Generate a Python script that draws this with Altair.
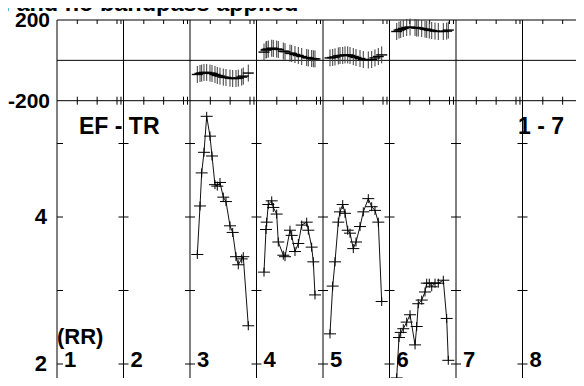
import altair as alt
import pandas as pd

# ---------------- data ----------------
title_text = "d and no bandpass applied"
baseline_label = "EF - TR"
range_label = "1 - 7"
stokes_label = "(RR)"
if_labels = ["1", "2", "3", "4", "5", "6", "7", "8"]
phase_tick_labels = [200, -200]
amp_tick_labels = [4, 2]
amp_ticks = [2, 3, 4, 5]
chan_ticks = [5, 10, 15, 16]
phase_lines = [200, 0, -200]

# IF 3
if3_chan = [1.73, 2.41, 2.83, 3.41, 4.09, 4.92, 5.43, 6.18, 6.76, 7.44, 8.27, 8.95, 9.96, 10.64, 11.47, 12.05, 12.91, 13.31, 14.57]
if3_amp = [3.49, 4.15, 4.60, 4.88, 5.37, 5.10, 4.83, 4.44, 4.42, 4.47, 4.27, 4.21, 3.88, 3.79, 3.46, 3.35, 3.43, 3.46, 2.52]
if3_phase = [-70, -65, -63, -60, -60, -63, -65, -70, -75, -78, -83, -85, -88, -90, -90, -88, -83, -78, -63]
# IF 4
if4_chan = [1.78, 2.28, 2.46, 2.86, 3.72, 4.12, 4.97, 5.38, 6.64, 7.07, 8.32, 8.75, 9.58, 10.42, 11.27, 12.53, 12.93, 13.78, 14.2, 14.62]
if4_amp = [3.25, 3.83, 3.93, 4.17, 4.22, 4.13, 4.04, 3.66, 3.48, 3.46, 3.82, 3.75, 3.53, 3.64, 3.89, 3.93, 3.82, 3.59, 3.39, 2.94]
if4_phase = [41, 51, 54, 56, 60, 59, 56, 54, 46, 43, 36, 34, 29, 24, 19, 14, 12, 9, 8, 7]
# IF 5
if5_chan = [1.65, 2.33, 2.91, 3.74, 4.17, 4.85, 5.43, 6.11, 6.69, 7.52, 8.20, 9.21, 10.04, 11.30, 12.15, 12.98, 13.82, 14.67]
if5_amp = [2.41, 3.06, 3.39, 3.93, 4.07, 4.17, 4.05, 3.82, 3.78, 3.57, 3.66, 3.87, 4.07, 4.25, 4.14, 4.09, 3.93, 2.85]
if5_phase = [12, 14, 17, 22, 24, 24, 27, 27, 24, 19, 14, 9, 4, 2, 4, 12, 19, 27]
# IF 6
if6_chan = [1.70, 2.28, 2.71, 3.36, 4.22, 5.06, 6.32, 6.74, 7.14, 8.0, 8.83, 9.26, 9.91, 10.52, 11.35, 12.18, 13.44, 14.29, 14.70]
if6_amp = [1.81, 2.36, 2.43, 2.48, 2.57, 2.67, 2.26, 2.51, 2.82, 2.87, 2.98, 3.10, 3.10, 3.05, 3.10, 3.10, 3.14, 2.62, 2.05]
if6_phase = [143, 150, 153, 158, 163, 165, 163, 160, 160, 158, 155, 153, 150, 148, 145, 143, 143, 145, 150]

# ---------------- layout constants ----------------
PW = 16.75      # channels per IF panel on the axis
X0 = -0.113     # axis origin (channel units)
FULL_W = 532    # full 8-panel width in px (extends past the window)
W, H = 519, 358 # svg box (kept inside the window)
XMAX = 527      # right edge of visible drawing
YMAX = 366      # bottom edge of visible drawing
FONT = "Liberation Sans"

series = {2: (if3_chan, if3_amp, if3_phase),
          3: (if4_chan, if4_amp, if4_phase),
          4: (if5_chan, if5_amp, if5_phase),
          5: (if6_chan, if6_amp, if6_phase)}
rows = []
for p, (ch, am, ph) in series.items():
    for k, (c, a, f) in enumerate(zip(ch, am, ph)):
        rows.append(dict(panel=p, seq=k, x=p * PW + c, amp=a, phase=f))
df = pd.DataFrame(rows)

px_per = FULL_W / (8 * PW)
div_df = pd.DataFrame({"x": [i * PW + X0 for i in range(8)]})
xt_vals = [i * PW + c for i in range(8) for c in chan_ticks]
xt_df = pd.DataFrame({"x": [v for v in xt_vals if (v - X0) * px_per <= XMAX - 1]})
hl_df = pd.DataFrame({"phase": phase_lines})
at_df = pd.DataFrame([dict(x=i * PW + X0, amp=a) for i in range(1, 8) for a in amp_ticks])
atl_df = pd.DataFrame([dict(x=X0, amp=a) for a in amp_ticks])
num_df = pd.DataFrame({"x": [i * PW + X0 for i in range(8)], "amp": [2] * 8, "label": if_labels})
pl_df = pd.DataFrame({"phase": phase_tick_labels, "label": [str(v) for v in phase_tick_labels]})
al_df = pd.DataFrame({"amp": amp_tick_labels, "label": [str(v) for v in amp_tick_labels]})

xs = alt.Scale(domain=[X0, X0 + 8 * PW], range=[0, FULL_W], nice=False, zero=False)
ps = alt.Scale(domain=[-200, 200], range=[80.7, 0], nice=False, zero=False)
ams = alt.Scale(domain=[2, 4], range=[344, 197], nice=False, zero=False)
X = alt.X("x:Q", scale=xs, axis=None)

layers = []
# frame: horizontal lines of phase panel
layers.append(alt.Chart(hl_df).mark_rule(color="black", strokeWidth=1).encode(
    y=alt.Y("phase:Q", scale=ps, axis=None), x=alt.value(0), x2=alt.value(XMAX)))
# panel dividers
layers.append(alt.Chart(div_df).mark_rule(color="black", strokeWidth=1).encode(
    x=X, y=alt.value(0), y2=alt.value(YMAX)))
# x ticks: top, middle, bottom
layers.append(alt.Chart(xt_df).mark_rule(color="black", strokeWidth=1).encode(
    x=X, y=alt.value(0), y2=alt.value(4)))
layers.append(alt.Chart(xt_df).mark_rule(color="black", strokeWidth=1).encode(
    x=X, y=alt.value(76.7), y2=alt.value(84.7)))
layers.append(alt.Chart(xt_df).mark_rule(color="black", strokeWidth=1).encode(
    x=X, y=alt.value(YMAX - 2.5), y2=alt.value(YMAX)))
# amplitude ticks on dividers
layers.append(alt.Chart(at_df).mark_tick(orient="horizontal", size=10, thickness=1, color="black", opacity=1).encode(
    x=X, y=alt.Y("amp:Q", scale=ams, axis=None)))
layers.append(alt.Chart(atl_df).mark_tick(orient="horizontal", size=6, thickness=1, color="black", opacity=1, xOffset=3).encode(
    x=X, y=alt.Y("amp:Q", scale=ams, axis=None)))

# phase crosses
layers.append(alt.Chart(df).mark_point(shape="M0,-1V1", filled=False, size=290, color="#3a3a3a", strokeWidth=1, opacity=1).encode(
    x=X, y=alt.Y("phase:Q", scale=ps, axis=None)))
layers.append(alt.Chart(df).mark_point(shape="M-1,0H1", filled=False, size=121, color="black", strokeWidth=1.4, opacity=1).encode(
    x=X, y=alt.Y("phase:Q", scale=ps, axis=None)))
# amplitude line + crosses
layers.append(alt.Chart(df).mark_line(color="#111", strokeWidth=1).encode(
    x=X, y=alt.Y("amp:Q", scale=ams, axis=None), detail="panel:N", order="seq:Q"))
layers.append(alt.Chart(df).mark_point(shape="M-1,0H1M0,-0.75V0.75", filled=False, size=144, color="black", strokeWidth=1, opacity=1).encode(
    x=X, y=alt.Y("amp:Q", scale=ams, axis=None)))

# texts
tb = dict(font=FONT, fontWeight="bold", color="black")
layers.append(alt.Chart(pl_df).mark_text(align="right", baseline="middle", fontSize=21, dy=1, **tb).encode(
    x=alt.value(-7), y=alt.Y("phase:Q", scale=ps, axis=None), text="label:N"))
layers.append(alt.Chart(al_df).mark_text(align="right", baseline="middle", fontSize=22, dy=0, **tb).encode(
    x=alt.value(-10), y=alt.Y("amp:Q", scale=ams, axis=None), text="label:N"))
layers.append(alt.Chart(num_df).mark_text(align="left", baseline="alphabetic", fontSize=22, dx=7, dy=3, **tb).encode(
    x=X, y=alt.Y("amp:Q", scale=ams, axis=None), text="label:N"))
layers.append(alt.Chart(pd.DataFrame({"t": [baseline_label]})).mark_text(align="left", baseline="alphabetic", fontSize=23, **tb).encode(
    x=alt.value(22), y=alt.value(114.3), text="t:N"))
layers.append(alt.Chart(pd.DataFrame({"t": [range_label]})).mark_text(align="left", baseline="alphabetic", fontSize=23, **tb).encode(
    x=alt.value(461), y=alt.value(114.3), text="t:N"))
layers.append(alt.Chart(pd.DataFrame({"t": [stokes_label]})).mark_text(align="left", baseline="alphabetic", fontSize=22, **tb).encode(
    x=alt.value(0), y=alt.value(323.5), text="t:N"))
layers.append(alt.Chart(pd.DataFrame({"t": [title_text]})).mark_text(align="left", baseline="alphabetic", fontSize=23.5, **tb).encode(
    x=alt.value(-61.5), y=alt.value(-9.5), text="t:N"))

chart = alt.layer(*layers).resolve_scale(y="independent").properties(
    width=W, height=H,
    autosize=alt.AutoSizeParams(type="none"),
    padding={"left": 49, "top": 12, "right": 0, "bottom": 0},
).configure_view(stroke=None)

chart.save("out.html", embed_options={"renderer": "svg", "actions": False})
